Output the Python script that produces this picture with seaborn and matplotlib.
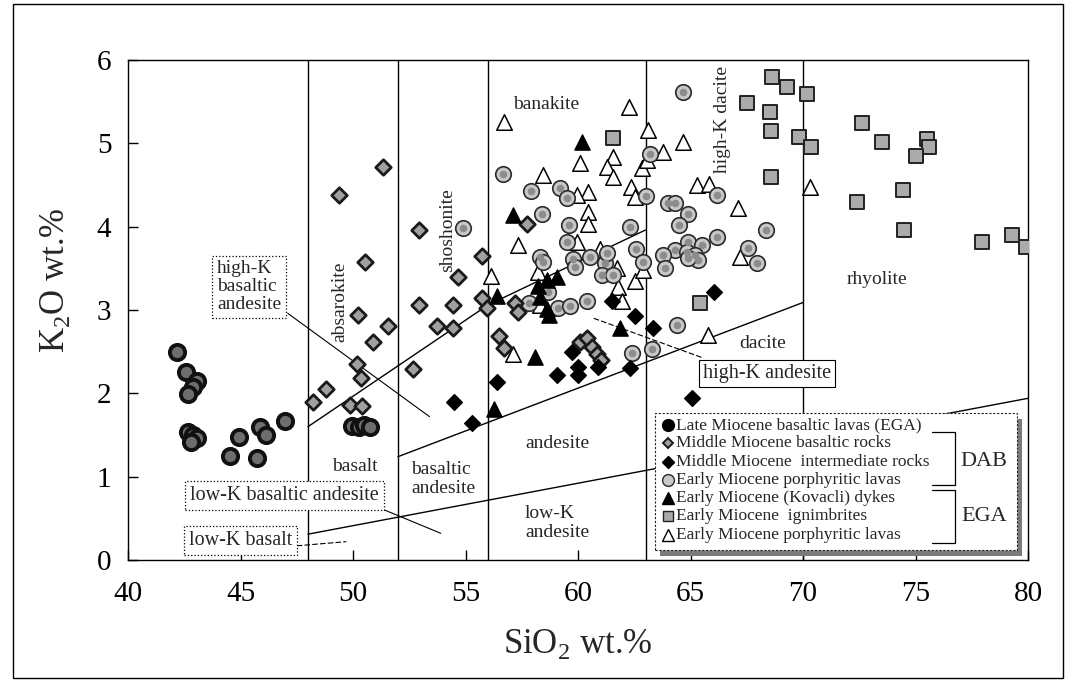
import matplotlib
matplotlib.use("Agg")
import matplotlib.pyplot as plt
from matplotlib.patches import Rectangle
import pandas as pd
import seaborn as sns

# ---------------- sample data: SiO2 vs K2O (wt.%) ----------------
late_bas_sio2 = [42.19, 42.58, 43.08, 42.9, 42.68, 42.68, 42.9, 43.05, 42.8, 44.95,
                 44.53, 45.72, 45.87, 46.12, 46.98, 49.95, 50.25, 50.5, 50.75]
late_bas_k2o = [2.49, 2.26, 2.15, 2.08, 1.99, 1.54, 1.5, 1.46, 1.42, 1.48,
                1.25, 1.22, 1.6, 1.5, 1.67, 1.61, 1.6, 1.62, 1.6]

mid_bas_sio2 = [51.35, 49.38, 52.93, 50.53, 52.93, 50.24, 51.57, 50.9, 48.2, 48.8,
                50.19, 50.34, 49.87, 50.39, 52.68, 55.72, 54.68, 54.46, 53.75, 54.46,
                55.72, 55.94, 56.5, 56.71, 57.22, 57.35, 57.75, 60.1, 60.4, 60.6,
                60.85, 61.0]
mid_bas_k2o = [4.72, 4.38, 3.96, 3.58, 3.06, 2.94, 2.81, 2.62, 1.89, 2.05,
               2.35, 2.18, 1.86, 1.85, 2.29, 3.65, 3.39, 3.06, 2.81, 2.78,
               3.14, 3.02, 2.69, 2.54, 3.08, 2.98, 4.03, 2.62, 2.66, 2.55,
               2.47, 2.4]

mid_int_sio2 = [54.5, 55.27, 56.39, 59.05, 59.72, 60.0, 60.0, 60.9, 61.5, 62.53,
                63.35, 62.31, 65.05, 66.05]
mid_int_k2o = [1.89, 1.64, 2.14, 2.22, 2.5, 2.32, 2.22, 2.32, 3.11, 2.93,
               2.78, 2.3, 1.94, 3.22]

dab_porph_sio2 = [54.9, 56.65, 57.9, 59.2, 59.52, 58.41, 59.62, 62.31, 63.2, 63.02,
                  64.68, 59.5, 58.31, 58.46, 59.79, 59.87, 60.53, 61.2, 61.28, 61.05,
                  61.57, 62.58, 62.9, 58.68, 57.8, 59.12, 59.64, 60.41, 62.38, 63.27,
                  64.39, 66.16, 64.01, 64.31, 64.9, 64.5, 66.19, 64.9, 65.5, 64.31,
                  64.83, 65.2, 65.35, 63.79, 63.87, 64.9, 67.57, 68.36, 67.94]
dab_porph_k2o = [3.98, 4.63, 4.43, 4.46, 4.34, 4.15, 4.02, 4.0, 4.87, 4.37,
                 5.61, 3.82, 3.64, 3.58, 3.61, 3.52, 3.63, 3.56, 3.68, 3.42,
                 3.42, 3.73, 3.57, 3.22, 3.08, 3.02, 3.05, 3.11, 2.48, 2.53,
                 2.82, 4.38, 4.28, 4.28, 4.15, 4.02, 3.87, 3.82, 3.78, 3.72,
                 3.7, 3.66, 3.6, 3.66, 3.5, 3.62, 3.74, 3.96, 3.56]

dyke_sio2 = [60.16, 57.12, 56.4, 56.25, 58.2, 58.6, 59.08, 58.3, 58.62, 58.7,
             61.87, 58.07]
dyke_k2o = [5.02, 4.14, 3.17, 1.81, 3.29, 3.36, 3.4, 3.16, 3.01, 2.94,
            2.78, 2.44]

ign_sio2 = [61.54, 68.6, 69.28, 70.16, 67.52, 68.53, 68.56, 69.84, 70.34, 68.56,
            72.61, 73.5, 75.5, 75.62, 75.02, 74.43, 72.39, 74.5, 77.94, 79.3,
            79.91, 65.42]
ign_k2o = [5.06, 5.79, 5.67, 5.59, 5.48, 5.37, 5.15, 5.07, 4.95, 4.59,
           5.24, 5.02, 5.05, 4.96, 4.85, 4.44, 4.3, 3.96, 3.82, 3.9,
           3.75, 3.08]

ega_porph_sio2 = [62.28, 56.7, 63.12, 61.57, 61.28, 61.57, 60.08, 58.43, 60.46, 59.94,
                  62.83, 63.05, 62.34, 62.53, 60.46, 60.46, 63.79, 64.65, 65.28, 65.84,
                  67.13, 70.31, 67.22, 57.35, 56.12, 59.94, 60.98, 61.72, 61.79, 62.53,
                  61.96, 58.24, 58.3, 57.12, 65.79, 62.9]
ega_porph_k2o = [5.44, 5.26, 5.16, 4.84, 4.72, 4.6, 4.76, 4.62, 4.42, 4.38,
                 4.7, 4.8, 4.48, 4.36, 4.18, 4.03, 4.9, 5.02, 4.5, 4.51,
                 4.22, 4.47, 3.63, 3.78, 3.41, 3.81, 3.73, 3.5, 3.27, 3.35,
                 3.11, 3.45, 3.06, 2.47, 2.7, 3.48]

group_labels = [
    "Late Miocene basaltic lavas (EGA)",
    "Middle Miocene basaltic rocks",
    "Middle Miocene  intermediate rocks",
    "Early Miocene porphyritic lavas",
    "Early Miocene (Kovacli) dykes",
    "Early Miocene  ignimbrites",
    "Early Miocene porphyritic lavas",
]
group_keys = ["late_bas", "mid_bas", "mid_int", "dab_porph", "dyke", "ign", "ega_porph"]

# ---------------- classification field boundaries ----------------
field_verticals = [48, 52, 56, 63, 70]
shoshonite_line_x = [48, 56, 63]
shoshonite_line_y = [1.6, 3.06, 3.96]
highk_line_x = [52, 70]
highk_line_y = [1.24, 3.09]
lowk_line_x = [48, 80]
lowk_line_y = [0.31, 1.94]

# ---------------- assemble tidy frame ----------------
frames = []
for key, xs, ys in [
    ("late_bas", late_bas_sio2, late_bas_k2o),
    ("mid_bas", mid_bas_sio2, mid_bas_k2o),
    ("mid_int", mid_int_sio2, mid_int_k2o),
    ("dab_porph", dab_porph_sio2, dab_porph_k2o),
    ("dyke", dyke_sio2, dyke_k2o),
    ("ign", ign_sio2, ign_k2o),
    ("ega_porph", ega_porph_sio2, ega_porph_k2o),
]:
    frames.append(pd.DataFrame({"SiO2": xs, "K2O": ys, "group": key}))
df = pd.concat(frames, ignore_index=True)

sns.set_style("white")
plt.rcParams["font.family"] = ["Liberation Serif", "DejaVu Serif"]
plt.rcParams["mathtext.fontset"] = "custom"
plt.rcParams["mathtext.rm"] = "Liberation Serif"

fig = plt.figure(figsize=(10.74, 6.83), dpi=100)
ax = fig.add_axes([0.1192, 0.1801, 0.8380, 0.7321])

# marker styles per group
styles = {
    "late_bas": dict(marker="o", s=120, color="#6e6e6e", edgecolor="#111111", linewidth=2.8),
    "mid_bas": dict(marker="D", s=62, color="#a0a0a0", edgecolor="#1a1a1a", linewidth=2.0),
    "mid_int": dict(marker="D", s=64, color="#000000", edgecolor="#000000", linewidth=1.0),
    "dab_porph": dict(marker="o", s=125, color="#c8c8c8", edgecolor="#2a2a2a", linewidth=1.2),
    "dyke": dict(marker="^", s=120, color="#000000", edgecolor="#000000", linewidth=1.0),
    "ign": dict(marker="s", s=95, color="#ababab", edgecolor="#222222", linewidth=1.4),
    "ega_porph": dict(marker="^", s=125, color="#ffffff", edgecolor="#000000", linewidth=1.1),
}

draw_order = ["ign", "ega_porph", "dab_porph", "mid_bas", "mid_int", "dyke", "late_bas"]
for key in draw_order:
    sub = df[df["group"] == key]
    sns.scatterplot(data=sub, x="SiO2", y="K2O", ax=ax, legend=False, zorder=3,
                    **styles[key])
    if key == "dab_porph":
        # stippled darker core of the porphyritic-lava symbols
        sns.scatterplot(data=sub, x="SiO2", y="K2O", ax=ax, legend=False, zorder=3,
                        marker="o", s=30, color="#8c8c8c", linewidth=0)

# field boundaries
for xv in field_verticals:
    ax.plot([xv, xv], [0, 6], color="black", lw=1.0, zorder=2)
ax.plot(shoshonite_line_x, shoshonite_line_y, color="black", lw=1.0, zorder=2)
ax.plot(highk_line_x, highk_line_y, color="black", lw=1.0, zorder=2)
ax.plot(lowk_line_x, lowk_line_y, color="black", lw=1.0, zorder=2)

# leader lines from boxed names
ax.plot([47.1, 53.4], [2.96, 1.72], color="black", lw=0.8, zorder=2)
ax.plot([51.4, 53.9], [0.6, 0.32], color="black", lw=0.8, zorder=2)
ax.plot([47.5, 49.7], [0.17, 0.22], color="black", lw=0.8, ls=(0, (5, 2)), zorder=2)
ax.plot([60.7, 65.5], [2.9, 2.43], color="black", lw=0.8, ls=(0, (5, 2)), zorder=2)

# field names
fs_field = 14
ax.text(49.42, 3.1, "absarokite", rotation=90, ha="center", va="center", fontsize=fs_field)
ax.text(54.2, 3.96, "shoshonite", rotation=90, ha="center", va="center", fontsize=fs_field)
ax.text(58.6, 5.46, "banakite", ha="center", va="center", fontsize=fs_field)
ax.text(66.4, 5.28, "high-K dacite", rotation=90, ha="center", va="center", fontsize=fs_field)
ax.text(73.3, 3.36, "rhyolite", ha="center", va="center", fontsize=fs_field)
ax.text(68.2, 2.6, "dacite", ha="center", va="center", fontsize=fs_field)
ax.text(59.1, 1.4, "andesite", ha="center", va="center", fontsize=fs_field)
ax.text(59.07, 0.44, "low-K\nandesite", ha="center", va="center", multialignment="left",
        fontsize=fs_field, linespacing=1.15)
ax.text(54.0, 0.97, "basaltic\nandesite", ha="center", va="center", multialignment="left",
        fontsize=fs_field, linespacing=1.15)
ax.text(50.1, 1.12, "basalt", ha="center", va="center", fontsize=fs_field)

box_dotted = dict(boxstyle="square,pad=0.25", fc="white", ec="black", lw=0.9, ls=":")
box_solid = dict(boxstyle="square,pad=0.2", fc="white", ec="black", lw=0.8)
ax.text(45.38, 3.28, "high-K\nbasaltic\nandesite", ha="center", va="center",
        multialignment="left", fontsize=14, linespacing=1.05, bbox=box_dotted, zorder=4)
ax.text(46.96, 0.77, "low-K basaltic andesite", ha="center", va="center",
        fontsize=14.5, bbox=box_dotted, zorder=4)
ax.text(44.99, 0.23, "low-K basalt", ha="center", va="center",
        fontsize=14.5, bbox=box_dotted, zorder=4)
ax.text(68.4, 2.24, "high-K andesite", ha="center", va="center",
        fontsize=14.5, bbox=box_solid, zorder=4)

# axes
ax.set_xlim(40, 80)
ax.set_ylim(0, 6)
ax.set_xticks([40, 45, 50, 55, 60, 65, 70, 75, 80])
ax.set_yticks([0, 1, 2, 3, 4, 5, 6])
ax.tick_params(direction="in", length=7, width=1, labelsize=21, colors="black",
               bottom=True, left=True, top=False, right=False)
ax.tick_params(axis="x", pad=15)
ax.tick_params(axis="y", pad=12)
for sp in ax.spines.values():
    sp.set_color("black")
    sp.set_linewidth(1.0)
ax.set_xlabel(r"SiO$_{\mathregular{2}}$ wt.%", fontsize=25)
ax.set_ylabel(r"K$_{\mathregular{2}}$O wt.%", fontsize=25)
ax.xaxis.set_label_coords(0.5, -0.135)
ax.yaxis.set_label_coords(-0.062, 0.56)
ax.grid(False)

# ---------------- legend panel ----------------
lx0, ly0, lw_, lh_ = 0.5856, 0.02, 0.4022, 0.274
ax.add_patch(Rectangle((lx0 + 0.006, ly0 - 0.012), lw_, lh_, transform=ax.transAxes,
                       fc="#7a7a7a", ec="none", zorder=9, clip_on=False))
ax.add_patch(Rectangle((lx0, ly0), lw_, lh_, transform=ax.transAxes, fc="white",
                       ec="#222222", lw=0.8, ls=(0, (2, 1.5)), zorder=10, clip_on=False))

legend_marker = {
    "late_bas": dict(marker="o", ms=8.5, mfc="black", mec="black", mew=1.0),
    "mid_bas": dict(marker="D", ms=5.5, mfc="#a0a0a0", mec="#1a1a1a", mew=1.4),
    "mid_int": dict(marker="D", ms=6.0, mfc="black", mec="black", mew=1.0),
    "dab_porph": dict(marker="o", ms=8.5, mfc="#c8c8c8", mec="#2a2a2a", mew=1.0),
    "dyke": dict(marker="^", ms=8.5, mfc="black", mec="black", mew=1.0),
    "ign": dict(marker="s", ms=7.5, mfc="#ababab", mec="#222222", mew=1.0),
    "ega_porph": dict(marker="^", ms=8.5, mfc="white", mec="black", mew=1.0),
}
row_y0, row_step = 0.270, 0.0366
for i, (key, lab) in enumerate(zip(group_keys, group_labels)):
    yy = row_y0 - i * row_step
    ax.plot([0.600], [yy], transform=ax.transAxes, ls="none", zorder=11, clip_on=False,
            **legend_marker[key])
    ax.text(0.6085, yy, lab, transform=ax.transAxes, ha="left", va="center",
            fontsize=12.5, zorder=11)

# group brackets
bx0, bx1 = 0.893, 0.919
for (ytop, ybot) in [(0.2554, 0.150), (0.140, 0.0334)]:
    ax.plot([bx0, bx1, bx1, bx0], [ytop, ytop, ybot, ybot], color="black", lw=0.9,
            transform=ax.transAxes, zorder=11, clip_on=False)
ax.text(0.951, 0.196, "DAB", transform=ax.transAxes, ha="center", va="center",
        fontsize=16, zorder=11)
ax.text(0.951, 0.086, "EGA", transform=ax.transAxes, ha="center", va="center",
        fontsize=16, zorder=11)

# outer frame around the figure
fig.patches.append(Rectangle((0.012, 0.008), 0.978, 0.986, transform=fig.transFigure,
                             fill=False, ec="black", lw=1.0))

fig.savefig("out.png", dpi=100)
